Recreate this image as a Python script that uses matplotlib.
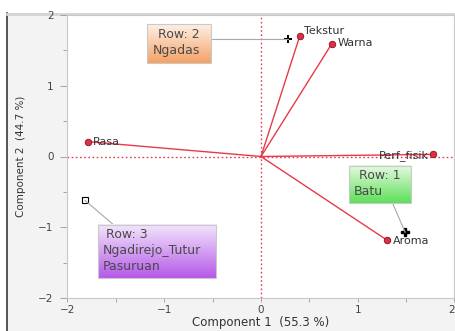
import numpy as np
import matplotlib
matplotlib.use("Agg")
import matplotlib.pyplot as plt
from matplotlib.patches import Rectangle
from matplotlib.colors import LinearSegmentedColormap

# Loadings of the variables on the first two components
variables = ["Rasa", "Tekstur", "Warna", "Perf_fisik", "Aroma"]
comp1 = [-1.79, 0.40, 0.73, 1.78, 1.30]
comp2 = [0.21, 1.70, 1.59, 0.03, -1.18]

# Observation scores
obs_names = ["Batu", "Ngadas", "Ngadirejo_Tutur\nPasuruan"]
obs_rows = [1, 2, 3]
obs_x = [1.49, 0.28, -1.82]
obs_y = [-1.07, 1.66, -0.62]

x_label = "Component 1  (55.3 %)"
y_label = "Component 2  (44.7 %)"

W, H = 456, 331
fig = plt.figure(figsize=(W / 100, H / 100), dpi=100, facecolor="white")

# window-like panel behind the axes
panel = fig.add_axes([0, 0, 1, 1], zorder=-5)
panel.set_xlim(0, W)
panel.set_ylim(H, 0)
panel.axis("off")
panel.add_patch(Rectangle((7, 13), W - 7, H - 13, facecolor="#f3f3f3", edgecolor="none"))
panel.plot([7, 7], [13, H], color="#3a3a3a", lw=1.2)
panel.plot([7, W], [14, 14], color="#d4d4d4", lw=2.0)

ax = fig.add_axes([67.5 / W, 33 / H, 387.0 / W, 283 / H])
ax.set_facecolor("white")
ax.set_xlim(-2, 2)
ax.set_ylim(-2, 2)

for s in ax.spines.values():
    s.set_color("#c8c8c8")
    s.set_linewidth(0.8)

ax.set_xticks([-2, -1, 0, 1, 2])
ax.set_yticks([-2, -1, 0, 1, 2])
ax.set_xticks([-1.5, -0.5, 0.5, 1.5], minor=True)
ax.set_yticks([-1.5, -0.5, 0.5, 1.5], minor=True)
ax.tick_params(which="both", direction="out", colors="#9a9a9a",
               labelcolor="#444444", labelsize=7.5, length=5, width=0.6)
ax.tick_params(which="minor", length=3)
ax.tick_params(axis="y", pad=5)
ax.tick_params(axis="x", length=3, pad=2)
ax.xaxis.get_major_ticks()[-1].label1.set_horizontalalignment("right")

ax.set_xlabel(x_label, fontsize=8.5, color="#333333", labelpad=1)
ax.set_ylabel(y_label, fontsize=7.5, color="#333333", labelpad=9)

# reference lines through the origin
ax.axhline(0, color="#e0404e", lw=1.0, ls=(0, (1.2, 1.8)), zorder=1)
ax.axvline(0, color="#e0404e", lw=1.0, ls=(0, (1.2, 1.8)), zorder=1)

# loading vectors
for x, y in zip(comp1, comp2):
    ax.plot([0, x], [0, y], color="#e8394a", lw=1.0, zorder=2)
ax.scatter(comp1, comp2, s=22, color="#e03040", edgecolor="#8a1020",
           linewidth=0.6, zorder=3)

label_style = dict(fontsize=8, color="#333333", zorder=4)
ax.text(comp1[0] + 0.05, comp2[0] - 0.01, variables[0], ha="left", va="center", **label_style)
ax.text(comp1[1] + 0.04, comp2[1] + 0.08, variables[1], ha="left", va="center", **label_style)
ax.text(comp1[2] + 0.06, comp2[2] + 0.02, variables[2], ha="left", va="center", **label_style)
ax.text(comp1[3] - 0.05, comp2[3] - 0.01, variables[3], ha="right", va="center", **label_style)
ax.text(comp1[4] + 0.06, comp2[4] - 0.01, variables[4], ha="left", va="center", **label_style)

# observation markers
ax.plot(obs_x[0], obs_y[0], marker="P", ms=6, color="black", ls="none", zorder=5)
ax.plot(obs_x[1], obs_y[1], marker="+", ms=6, mew=1.4, color="black", ls="none", zorder=5)
ax.plot(obs_x[2], obs_y[2], marker="s", ms=4.5, mfc="white", mec="black", mew=0.8,
        ls="none", zorder=5)


def data_tip(x0, x1, y0, y1, top, bottom, lines, anchor, target):
    cmap = LinearSegmentedColormap.from_list("tip", [bottom, top])
    grad = np.linspace(0, 1, 64).reshape(-1, 1)
    ax.plot([anchor[0], target[0]], [anchor[1], target[1]], color="#a8a8a8",
            lw=0.8, zorder=6)
    ax.imshow(grad, cmap=cmap, extent=(x0, x1, y0, y1), origin="lower",
              aspect="auto", zorder=7, interpolation="bilinear")
    ax.add_patch(Rectangle((x0, y0), x1 - x0, y1 - y0, facecolor="none",
                           edgecolor="#c9c9c9", lw=0.8, zorder=8))
    n = len(lines)
    step = (y1 - y0) / (n + 0.35)
    for i, (txt, dx) in enumerate(lines):
        ax.text(x0 + dx, y1 - step * (i + 0.6), txt, fontsize=9,
                color="#4a4a4a", ha="left", va="center", zorder=9)


# Row 2 tip (Ngadas)
data_tip(-1.18, -0.52, 1.32, 1.87, "#fdf0e6", "#f5a266",
         [("Row: %d" % obs_rows[1], 0.12), (obs_names[1], 0.06)],
         (-0.52, 1.66), (obs_x[1], obs_y[1]))
# Row 1 tip (Batu)
data_tip(0.91, 1.55, -0.66, -0.13, "#e6f9e0", "#5fe05a",
         [("Row: %d" % obs_rows[0], 0.10), (obs_names[0], 0.05)],
         (1.36, -0.66), (obs_x[0], obs_y[0]))
# Row 3 tip (Ngadirejo_Tutur Pasuruan)
name3 = obs_names[2].split("\n")
data_tip(-1.68, -0.46, -1.72, -0.97, "#f3e6fb", "#b55ae9",
         [("Row: %d" % obs_rows[2], 0.08), (name3[0], 0.04), (name3[1], 0.04)],
         (-1.52, -0.97), (obs_x[2], obs_y[2]))

fig.savefig("out.png", dpi=100, facecolor=fig.get_facecolor())
